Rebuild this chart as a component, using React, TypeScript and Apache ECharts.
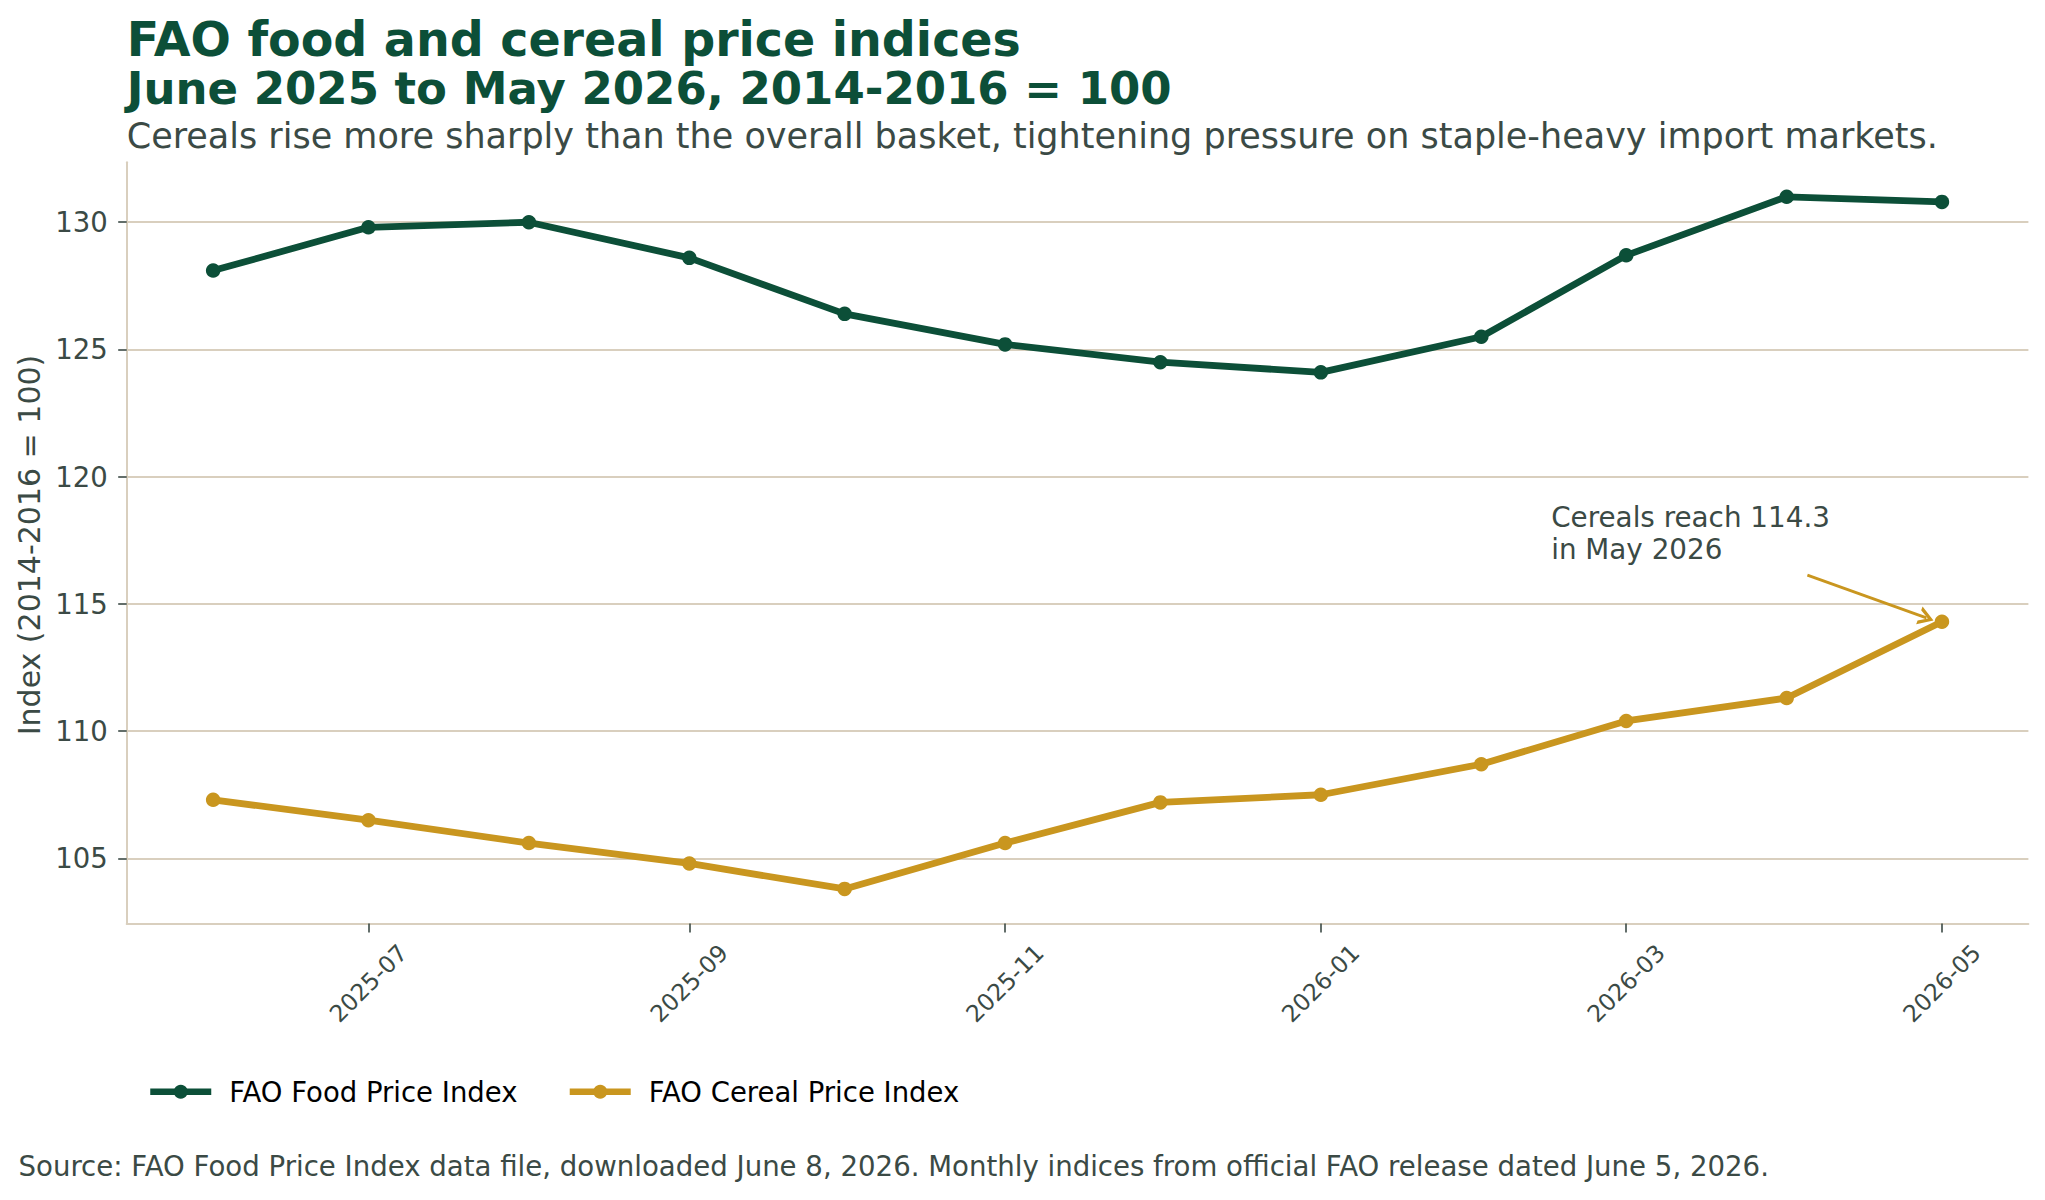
import React, { useEffect, useRef } from "react";
import * as echarts from "echarts";

// ---- Data ----
const months = [
  "2025-06", "2025-07", "2025-08", "2025-09", "2025-10", "2025-11",
  "2025-12", "2026-01", "2026-02", "2026-03", "2026-04", "2026-05",
];
const foodIndex = [128.1, 129.8, 130.0, 128.6, 126.4, 125.2, 124.5, 124.1, 125.5, 128.7, 131.0, 130.8];
const cerealIndex = [107.3, 106.5, 105.6, 104.8, 103.8, 105.6, 107.2, 107.5, 108.7, 110.4, 111.3, 114.3];
const xTickLabels = ["2025-07", "2025-09", "2025-11", "2026-01", "2026-03", "2026-05"];
const yTickValues = [105, 110, 115, 120, 125, 130];
const seriesNames = ["FAO Food Price Index", "FAO Cereal Price Index"];

// annotation (data coordinates)
const noteText = "Cereals reach 114.3\nin May 2026";
const noteAnchor = { date: [2026, 2, 14.5], value: 119.05 };
const arrowFrom = { date: [2026, 4, 5], value: 116.13 };
const arrowTo = { date: [2026, 4, 28.0], value: 114.45 };

// ---- Styles ----
const GREEN = "#0C4F38";
const GOLD = "#C9961F";
const GRID = "#D9CFBE";
const TEXT = "#3B4A45";
const FONT = "DejaVu Sans";

const DAY = 86400000;
const toTime = (s: string) => {
  const [y, m] = s.split("-").map(Number);
  return new Date(y, m - 1, 1).getTime();
};
const dateTime = (d: number[]) => new Date(d[0], d[1] - 1, 1).getTime() + (d[2] - 1) * DAY;

export default function App() {
  const ref = useRef<HTMLDivElement>(null);

  useEffect(() => {
    if (!ref.current) return;
    const chart = echarts.init(ref.current, undefined, { renderer: "svg" });

    const times = months.map(toTime);
    const t0 = times[0];
    const t1 = times[times.length - 1];
    const xPad = (t1 - t0) * 0.05;
    const all = foodIndex.concat(cerealIndex);
    const lo = Math.min(...all);
    const hi = Math.max(...all);
    const yPad = (hi - lo) * 0.05;
    const xTickValues = xTickLabels.map(toTime);

    const chevron = "path://M5,0 L10,10 L7.8,10 L5,4 L2.2,10 L0,10 Z";

    chart.setOption({
      animation: false,
      backgroundColor: "#ffffff",
      textStyle: { fontFamily: FONT },
      grid: { left: 126.7, right: 16.6, top: 162.2, bottom: 276.5, containLabel: false },
      legend: {
        data: seriesNames,
        left: 147,
        top: 1076.7,
        padding: 0,
        itemWidth: 61,
        itemHeight: 17.5,
        itemGap: 49,
        lineStyle: { width: 6.5 },
        textStyle: { fontSize: 27.5, color: "#000000", fontFamily: FONT, padding: [0, 0, 0, 13], lineHeight: 30 },
      },
      xAxis: {
        type: "value",
        min: t0 - xPad,
        max: t1 + xPad,
        axisLine: { show: true, lineStyle: { color: GRID, width: 2 } },
        axisTick: { show: true, customValues: xTickValues, length: 9, lineStyle: { color: TEXT, width: 1.6 } },
        axisLabel: {
          customValues: xTickValues,
          formatter: (v: number) => {
            const i = xTickValues.indexOf(v);
            return i >= 0 ? xTickLabels[i] : "";
          },
          rotate: 45,
          align: "center",
          verticalAlign: "middle",
          margin: 60,
          fontSize: 23.5,
          color: TEXT,
          fontFamily: FONT,
        },
        splitLine: { show: false },
      },
      yAxis: {
        type: "value",
        min: lo - yPad,
        max: hi + yPad,
        axisLine: { show: true, lineStyle: { color: GRID, width: 2 } },
        axisTick: { show: true, customValues: yTickValues, length: 8.5, lineStyle: { color: TEXT, width: 1.6 } },
        axisLabel: { customValues: yTickValues, fontSize: 27.5, color: TEXT, margin: 19, fontFamily: FONT },
        splitLine: { show: true, lineStyle: { color: GRID, width: 2 } },
      },
      series: [
        {
          name: seriesNames[0],
          type: "line",
          data: times.map((t, i) => [t, foodIndex[i]]),
          symbol: "circle",
          symbolSize: 14.5,
          showAllSymbol: true,
          lineStyle: { width: 6.8, color: GREEN, join: "round" },
          itemStyle: { color: GREEN },
          z: 3,
        },
        {
          name: seriesNames[1],
          type: "line",
          data: times.map((t, i) => [t, cerealIndex[i]]),
          symbol: "circle",
          symbolSize: 14.5,
          showAllSymbol: true,
          lineStyle: { width: 6.8, color: GOLD, join: "round" },
          itemStyle: { color: GOLD },
          z: 3,
          markLine: {
            silent: true,
            animation: false,
            lineStyle: { color: GOLD, width: 2.8, type: "solid" },
            label: { show: false },
            data: [
              [
                { coord: [dateTime(arrowFrom.date), arrowFrom.value], symbol: "none" },
                { coord: [dateTime(arrowTo.date), arrowTo.value], symbol: chevron, symbolSize: [19, 15] },
              ],
            ],
          },
          markPoint: {
            silent: true,
            symbol: "rect",
            symbolSize: 1,
            itemStyle: { color: "rgba(0,0,0,0)" },
            label: {
              show: true,
              formatter: noteText,
              position: [0.5, 0.5],
              align: "left",
              verticalAlign: "top",
              fontSize: 27.8,
              lineHeight: 32.3,
              color: TEXT,
              fontFamily: FONT,
            },
            data: [{ coord: [dateTime(noteAnchor.date), noteAnchor.value] }],
          },
        },
      ],
      graphic: [
        {
          type: "text", x: 126.7, y: 15.3,
          style: {
            text: "{a|FAO food and cereal price indices}\n{b|June 2025 to May 2026, 2014-2016 = 100}",
            align: "left",
            verticalAlign: "top",
            rich: {
              a: { fill: GREEN, fontFamily: FONT, fontWeight: "bold", fontSize: 47.5, lineHeight: 48.9 },
              b: { fill: GREEN, fontFamily: FONT, fontWeight: "bold", fontSize: 45, lineHeight: 48.9 },
            },
          },
        },
        {
          type: "text", x: 126.7, y: 136.2,
          style: { text: "Cereals rise more sharply than the overall basket, tightening pressure on staple-heavy import markets.", fill: TEXT, font: `35px '${FONT}'`, align: "left", verticalAlign: "middle" },
        },
        {
          type: "text", x: 29.5, y: 545, rotation: Math.PI / 2,
          style: { text: "Index (2014-2016 = 100)", fill: TEXT, font: `30px '${FONT}'`, align: "center", verticalAlign: "middle" },
        },
        {
          type: "text", x: 18.5, y: 1166.7,
          style: { text: "Source: FAO Food Price Index data file, downloaded June 8, 2026. Monthly indices from official FAO release dated June 5, 2026.", fill: TEXT, font: `27.6px '${FONT}'`, align: "left", verticalAlign: "middle" },
        },
      ],
    });

    return () => chart.dispose();
  }, []);

  return (
    <div
      ref={ref}
      style={{ position: "fixed", left: 0, top: 0, width: 2045, height: 1200, background: "#ffffff" }}
    />
  );
}
